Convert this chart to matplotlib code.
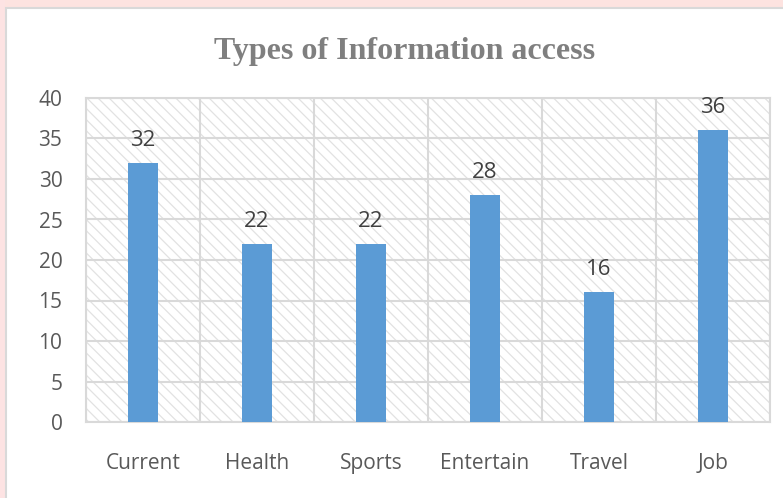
import matplotlib.pyplot as plt
import matplotlib.patches as mpatches
import numpy as np

categories = ['Current', 'Health', 'Sports', 'Entertain', 'Travel', 'Job']
values = [32, 22, 22, 28, 16, 36]
yticks = [0, 5, 10, 15, 20, 25, 30, 35, 40]

plt.rcParams['hatch.color'] = '#e2e2e2'
plt.rcParams['hatch.linewidth'] = 0.9


def plot_fig():
    fig = plt.figure(figsize=(7.83, 4.98), dpi=100)
    fig.patch.set_facecolor('white')

    # faint page background outside the chart frame
    fig.patches.append(mpatches.Rectangle((0, 0.985), 1, 0.015, transform=fig.transFigure,
                                          facecolor='#fde3e0', edgecolor='none', zorder=-3))
    fig.patches.append(mpatches.Rectangle((0, 0), 0.007, 1, transform=fig.transFigure,
                                          facecolor='#fde3e3', edgecolor='none', zorder=-3))
    # chart frame
    fig.patches.append(mpatches.Rectangle((6 / 783, -0.05), 1.0, (498 - 8) / 498 + 0.05,
                                          transform=fig.transFigure, facecolor='white',
                                          edgecolor='#d9d9d9', lw=1.5, zorder=-2))

    ax = fig.add_axes([86 / 783, 76 / 498, 684 / 783, 324 / 498])
    ax.set_facecolor('white')
    x = np.arange(len(categories))

    # hatched plot area
    ax.add_patch(mpatches.Rectangle((-0.5, 0), len(categories), 40, facecolor='white',
                                    edgecolor='#e2e2e2', hatch='\\\\\\', lw=0, zorder=0))

    ax.bar(x, values, width=0.27, color='#5b9bd5', zorder=3)
    for xi, v in zip(x, values):
        ax.text(xi, v + 2.1, str(v), ha='center', va='baseline', fontsize=16,
                color='#404040', family='Open Sans')

    ax.set_xlim(-0.5, len(categories) - 0.5)
    ax.set_ylim(0, 40)
    ax.set_yticks(yticks)
    ax.set_yticklabels([str(t) for t in yticks], family='Open Sans', fontsize=15, color='#595959')
    ax.set_xticks(x)
    ax.set_xticklabels(categories, family='Open Sans', fontsize=15, color='#595959')
    ax.tick_params(axis='x', length=0, pad=22)
    ax.tick_params(axis='y', length=0, pad=17)

    for yv in yticks:
        ax.axhline(yv, color='#d9d9d9', lw=1.5, zorder=1)
    for b in np.arange(-0.5, len(categories), 1.0):
        ax.axvline(b, color='#d9d9d9', lw=1.5, zorder=1)
    for s in ax.spines.values():
        s.set_color('#d9d9d9')
        s.set_linewidth(1.5)

    fig.text(405 / 783, 1 - 51 / 498, 'Types of Information access', ha='center', va='center',
             fontsize=23, fontweight='bold', color='#7f7f7f', family='Liberation Serif')

    fig.savefig('out.png', dpi=100, facecolor=fig.get_facecolor())


def main():
    plot_fig()


if __name__ == '__main__':
    main()
